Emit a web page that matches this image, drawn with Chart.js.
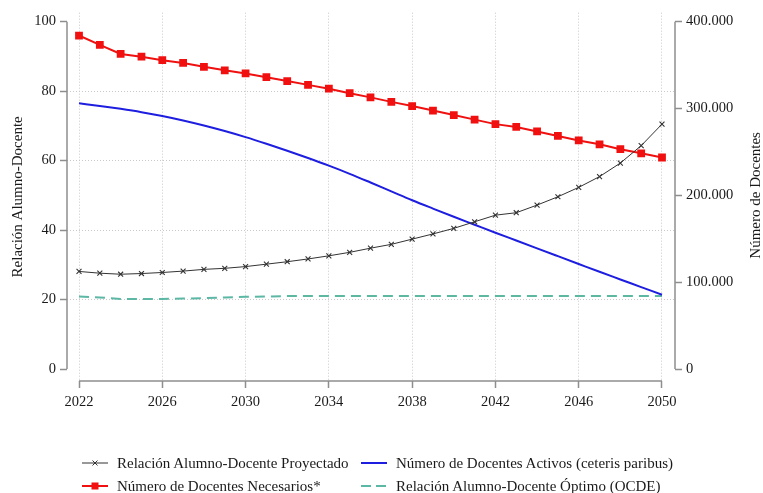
<!DOCTYPE html>
<html>
<head>
<meta charset="utf-8">
<script src="https://cdn.jsdelivr.net/npm/chart.js@4"></script>
<style>
  html, body { margin: 0; padding: 0; background: #fff; }
  #wrap { position: relative; width: 763px; height: 493px; }
  #legend { position: absolute; left: 0; top: 0; width: 763px; height: 493px; pointer-events: none;
            font-family: "Liberation Serif", "DejaVu Serif", serif; font-size: 15px; color: #1a1a1a; }
  .item { position: absolute; height: 20px; white-space: nowrap; }
  .item svg { position: absolute; left: 0; top: 4px; }
  .item span { position: absolute; top: 0; line-height: 20px; }
</style>
</head>
<body>
<div id="wrap">
  <canvas id="chart" width="763" height="493"></canvas>
  <div id="legend"></div>
</div>
<script>
// Years of the projection
const years = [2022, 2023, 2024, 2025, 2026, 2027, 2028, 2029, 2030, 2031, 2032, 2033, 2034, 2035,
               2036, 2037, 2038, 2039, 2040, 2041, 2042, 2043, 2044, 2045, 2046, 2047, 2048, 2049, 2050];

// Projected student-teacher ratio (left axis)
const ratioProjected = [28.1, 27.6, 27.3, 27.5, 27.8, 28.2, 28.7, 29.0, 29.5, 30.2, 30.9, 31.7, 32.6, 33.6,
                        34.8, 35.9, 37.4, 38.9, 40.5, 42.4, 44.3, 45.0, 47.2, 49.6, 52.3, 55.4, 59.3, 64.3, 70.5];

// Teachers needed (right axis)
const teachersNeeded = [384000, 373200, 362800, 359600, 355600, 352400, 348000, 344000, 340400, 336000,
                        331600, 327200, 322800, 317600, 312800, 307600, 302800, 297600, 292400, 287200,
                        282000, 278800, 273600, 268400, 263200, 258800, 253200, 248400, 243600];

// Active teachers, ceteris paribus (right axis)
const teachersActive = [306000, 303000, 299600, 295800, 291400, 286200, 280400, 274000, 267000, 259400,
                        251400, 243000, 234200, 224800, 214800, 204600, 194400, 184800, 175400, 166200,
                        157000, 148000, 139000, 130000, 121000, 112000, 103200, 94400, 85600];

// OECD optimal student-teacher ratio (left axis)
const ratioOptimal = [20.9, 20.6, 20.2, 20.2, 20.2, 20.3, 20.4, 20.6, 20.8, 20.9, 21.0, 21.0, 21.0, 21.0,
                      21.0, 21.0, 21.0, 21.0, 21.0, 21.0, 21.0, 21.0, 21.0, 21.0, 21.0, 21.0, 21.0, 21.0, 21.0];

// Tick labels
const xTicks = [2022, 2026, 2030, 2034, 2038, 2042, 2046, 2050];
const yLeftTicks = [0, 20, 40, 60, 80, 100];
const yRightTicks = [0, 100000, 200000, 300000, 400000];

const labels = {
  projected: 'Relación Alumno-Docente Proyectado',
  active: 'Número de Docentes Activos (ceteris paribus)',
  needed: 'Número de Docentes Necesarios*',
  optimal: 'Relación Alumno-Docente Óptimo (OCDE)',
  leftTitle: 'Relación Alumno-Docente',
  rightTitle: 'Número de Docentes'
};

const FONT_FAMILY = '"Liberation Serif", "DejaVu Serif", serif';
const TEXT = '#1a1a1a';
const AXIS = '#8e8e8e';
const GRID = '#c9c9c9';
const BLACK = '#333333';
const RED = '#f01010';
const BLUE = '#1e1ee0';
const TEAL = '#5cb8a5';

const pts = arr => arr.map((v, i) => ({ x: years[i], y: v }));
const thousands = v => String(Math.round(v)).replace(/\B(?=(\d{3})+(?!\d))/g, '.');

// Axis lines that only span the data range, plus the right-hand title
const axisLines = {
  id: 'axisLines',
  afterDraw(chart) {
    const { ctx, chartArea, scales } = chart;
    const { x, y, y2 } = scales;
    ctx.save();
    ctx.strokeStyle = AXIS;
    ctx.lineWidth = 1.5;
    ctx.beginPath();
    ctx.moveTo(chartArea.left, y.getPixelForValue(yLeftTicks[0]));
    ctx.lineTo(chartArea.left, y.getPixelForValue(yLeftTicks[yLeftTicks.length - 1]));
    ctx.moveTo(chartArea.right, y2.getPixelForValue(yRightTicks[0]));
    ctx.lineTo(chartArea.right, y2.getPixelForValue(yRightTicks[yRightTicks.length - 1]));
    ctx.moveTo(x.getPixelForValue(xTicks[0]), chartArea.bottom);
    ctx.lineTo(x.getPixelForValue(xTicks[xTicks.length - 1]), chartArea.bottom);
    ctx.stroke();

    const cy = (y2.getPixelForValue(yRightTicks[0]) + y2.getPixelForValue(yRightTicks[yRightTicks.length - 1])) / 2;
    ctx.translate(756, cy);
    ctx.rotate(-Math.PI / 2);
    ctx.font = '15px ' + FONT_FAMILY;
    ctx.fillStyle = TEXT;
    ctx.textAlign = 'center';
    ctx.textBaseline = 'middle';
    ctx.fillText(labels.rightTitle, 0, 0);
    ctx.restore();
  }
};

const tickFont = { family: FONT_FAMILY, size: 14.5 };

const chart = new Chart(document.getElementById('chart'), {
  type: 'line',
  data: {
    datasets: [
      { label: labels.projected, data: pts(ratioProjected), yAxisID: 'y',
        borderColor: BLACK, backgroundColor: BLACK, borderWidth: 1,
        pointStyle: 'crossRot', pointRadius: 3.5, pointBorderWidth: 1.1, pointBorderColor: BLACK },
      { label: labels.active, data: pts(teachersActive), yAxisID: 'y2',
        borderColor: BLUE, backgroundColor: BLUE, borderWidth: 2,
        pointRadius: 0, cubicInterpolationMode: 'monotone' },
      { label: labels.needed, data: pts(teachersNeeded), yAxisID: 'y2',
        borderColor: RED, backgroundColor: RED, borderWidth: 2,
        pointStyle: 'rect', pointRadius: 5.5, pointBorderWidth: 0, pointBackgroundColor: RED },
      { label: labels.optimal, data: pts(ratioOptimal), yAxisID: 'y',
        borderColor: TEAL, backgroundColor: TEAL, borderWidth: 2, borderDash: [10, 6],
        pointRadius: 0 }
    ]
  },
  options: {
    responsive: false,
    animation: false,
    layout: { padding: { top: 10, left: 0, right: 0, bottom: 0 } },
    plugins: { legend: { display: false }, tooltip: { enabled: false } },
    scales: {
      x: {
        type: 'linear', position: 'bottom',
        min: 2021.4236, max: 2050.6244,
        afterBuildTicks: s => { s.ticks = xTicks.map(v => ({ value: v })); },
        afterFit: s => { s.height = 112; },
        grid: { color: GRID, lineWidth: 1, tickLength: 7, tickColor: AXIS, tickWidth: 1.5 },
        border: { display: false, dash: [1, 2] },
        ticks: { font: tickFont, color: TEXT, padding: 5, autoSkip: false, maxRotation: 0,
                 callback: v => String(v) }
      },
      y: {
        type: 'linear', position: 'left',
        min: -3.4286, max: 102.5714,
        afterBuildTicks: s => { s.ticks = yLeftTicks.map(v => ({ value: v })); },
        afterFit: s => { s.width = 67; },
        grid: {
          color: c => (c.tick && (c.tick.value === 0 || c.tick.value === 100)) ? 'rgba(0,0,0,0)' : GRID,
          lineWidth: 1, tickLength: 7, tickColor: AXIS, tickWidth: 1.5
        },
        border: { display: false, dash: [1, 2] },
        ticks: { font: tickFont, color: TEXT, padding: 4, callback: v => String(v) },
        title: { display: true, text: labels.leftTitle, color: TEXT,
                 font: { family: FONT_FAMILY, size: 15 }, padding: { top: 9, bottom: 0 } }
      },
      y2: {
        type: 'linear', position: 'right',
        min: -13714.3, max: 410285.7,
        afterBuildTicks: s => { s.ticks = yRightTicks.map(v => ({ value: v })); },
        afterFit: s => { s.width = 88; },
        grid: { drawOnChartArea: false, tickLength: 7, tickColor: AXIS, tickWidth: 1.5 },
        border: { display: false },
        ticks: { font: tickFont, color: TEXT, padding: 4, callback: v => thousands(v) }
      }
    }
  },
  plugins: [axisLines]
});

// Two-column legend below the plot
const legendSlots = [
  { ds: 0, left: 81, top: 453 },
  { ds: 1, left: 360, top: 453 },
  { ds: 2, left: 81, top: 476 },
  { ds: 3, left: 360, top: 476 }
];
function symbolFor(ds) {
  const c = ds.borderColor;
  let s = '<svg width="28" height="12" viewBox="0 0 28 12">';
  if (ds.borderDash) {
    s += `<line x1="1" y1="6" x2="11" y2="6" stroke="${c}" stroke-width="2"/>`;
    s += `<line x1="16" y1="6" x2="26" y2="6" stroke="${c}" stroke-width="2"/>`;
  } else {
    s += `<line x1="1" y1="6" x2="27" y2="6" stroke="${c}" stroke-width="${ds.borderWidth}"/>`;
  }
  if (ds.pointStyle === 'crossRot') {
    s += `<path d="M11.5 3.5 L16.5 8.5 M16.5 3.5 L11.5 8.5" stroke="${c}" stroke-width="1"/>`;
  } else if (ds.pointStyle === 'rect') {
    s += `<rect x="10.5" y="2.5" width="7" height="7" fill="${c}"/>`;
  }
  return s + '</svg>';
}
const legendEl = document.getElementById('legend');
legendSlots.forEach(slot => {
  const ds = chart.data.datasets[slot.ds];
  const div = document.createElement('div');
  div.className = 'item';
  div.style.left = slot.left + 'px';
  div.style.top = slot.top + 'px';
  div.innerHTML = symbolFor(ds) + '<span style="left:36px">' + ds.label + '</span>';
  legendEl.appendChild(div);
});
</script>
</body>
</html>
